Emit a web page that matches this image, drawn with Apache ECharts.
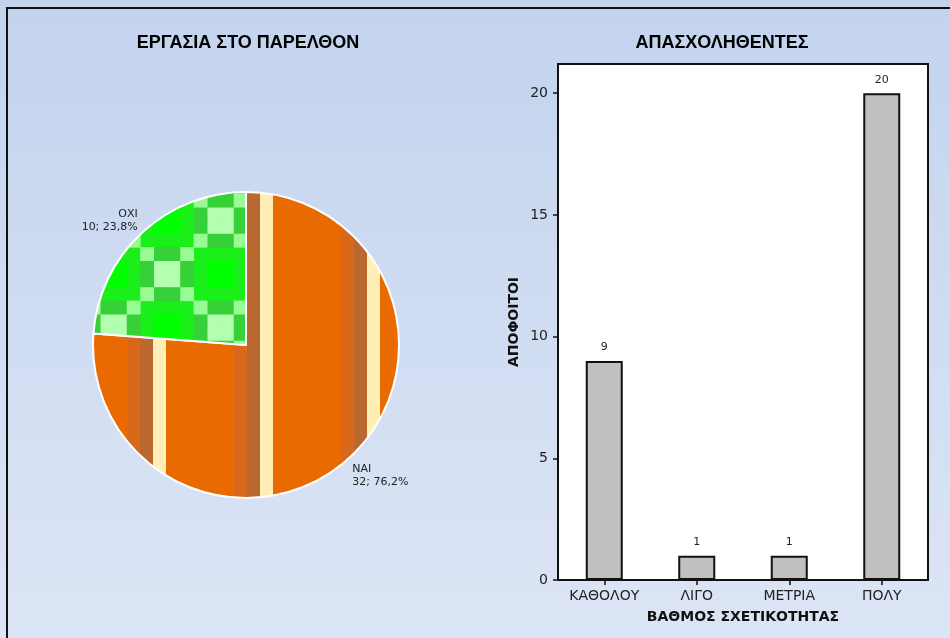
<!DOCTYPE html>
<html>
<head>
<meta charset="utf-8">
<script src="https://cdn.jsdelivr.net/npm/echarts@6/dist/echarts.min.js"></script>
<style>
  html, body { margin: 0; padding: 0; }
  #chart { position: absolute; left: 0; top: 0; width: 950px; height: 638px; }
</style>
</head>
<body>
<div id="chart"></div>
<script>
// Data
const pieNames = ["ΝΑΙ", "ΟΧΙ"];
const pieValues = [32, 10];
const barCategories = ["ΚΑΘΟΛΟΥ", "ΛΙΓΟ", "ΜΕΤΡΙΑ", "ΠΟΛΥ"];
const barValues = [9, 1, 1, 20];
const yTicks = [0, 5, 10, 15, 20];

// Fill patterns (tile of 107px, lined up with the canvas origin)
function stripeTile() {
  const c = document.createElement("canvas");
  c.width = 107;
  c.height = 8;
  const ctx = c.getContext("2d");
  ctx.fillStyle = "#e86a00";
  ctx.fillRect(0, 0, 107, 8);
  ctx.fillStyle = "#d9681a";
  ctx.fillRect(20, 0, 13, 8);
  ctx.fillStyle = "#b9692f";
  ctx.fillRect(33, 0, 13, 8);
  ctx.fillStyle = "#ffefb6";
  ctx.fillRect(46, 0, 13, 8);
  return c;
}

function checkTile() {
  const size = 107, cell = size / 8, off = 100;
  const c = document.createElement("canvas");
  c.width = size;
  c.height = size;
  const ctx = c.getContext("2d");
  ctx.fillStyle = "#1aef1a";
  ctx.fillRect(0, 0, size, size);
  const light = "#b3ffb0", pale = "#99fb94", mid = "#38d038", pure = "#00ff00";
  const cells = [];
  // two light blocks per tile with a mid ring and pale corners
  [[0, 0], [4, 4]].forEach(([bx, by]) => {
    cells.push([bx, by, light], [bx + 1, by, light], [bx, by + 1, light], [bx + 1, by + 1, light]);
    cells.push([bx, by - 1, mid], [bx + 1, by - 1, mid], [bx, by + 2, mid], [bx + 1, by + 2, mid]);
    cells.push([bx - 1, by, mid], [bx - 1, by + 1, mid], [bx + 2, by, mid], [bx + 2, by + 1, mid]);
    cells.push([bx - 1, by - 1, pale], [bx + 2, by - 1, pale], [bx - 1, by + 2, pale], [bx + 2, by + 2, pale]);
    cells.push([bx, by + 4, pure], [bx + 1, by + 4, pure], [bx, by + 5, pure], [bx + 1, by + 5, pure]);
  });
  cells.forEach(([cx, cy, col]) => {
    const x = (((off + cx * cell) % size) + size) % size;
    const y = (((off + cy * cell) % size) + size) % size;
    ctx.fillStyle = col;
    for (const dx of [0, -size]) {
      for (const dy of [0, -size]) {
        ctx.fillRect(x + dx, y + dy, cell + 0.5, cell + 0.5);
      }
    }
  });
  return c;
}

const pieFills = [
  { image: stripeTile(), repeat: "repeat" },
  { image: checkTile(), repeat: "repeat" },
];
// nudges for the two pie labels
const pieLabelShift = [[-13, 10], [11, -3]];

const chart = echarts.init(document.getElementById("chart"), null, { renderer: "canvas" });

const titleFont = { fontFamily: "'Liberation Sans', Arial, sans-serif", fontWeight: "bold", fontSize: 18, color: "#000" };
const textFont = "'DejaVu Sans', 'Liberation Sans', sans-serif";

const option = {
  backgroundColor: {
    type: "linear", x: 0, y: 0, x2: 0, y2: 1,
    colorStops: [
      { offset: 0, color: "#c3d3ee" },
      { offset: 1, color: "#dce5f5" },
    ],
  },
  animation: false,
  title: [
    { text: "ΕΡΓΑΣΙΑ ΣΤΟ ΠΑΡΕΛΘΟΝ", left: 243, top: 29, textAlign: "center", textStyle: titleFont },
    { text: "ΑΠΑΣΧΟΛΗΘΕΝΤΕΣ", left: 717, top: 29, textAlign: "center", textStyle: titleFont },
  ],
  graphic: [
    {
      type: "rect",
      shape: { x: 7, y: 8, width: 960, height: 650 },
      style: { fill: null, stroke: "#111", lineWidth: 2 },
      silent: true,
    },
  ],
  grid: {
    left: 558, top: 64, right: 22, bottom: 58,
    show: true, backgroundColor: "#fff", borderColor: "#111", borderWidth: 2,
  },
  xAxis: {
    type: "category",
    data: barCategories,
    name: "ΒΑΘΜΟΣ ΣΧΕΤΙΚΟΤΗΤΑΣ",
    nameLocation: "middle",
    nameGap: 30,
    nameTextStyle: { fontFamily: textFont, fontWeight: "bold", fontSize: 14, color: "#111" },
    axisLine: { show: true, lineStyle: { color: "#111", width: 2 } },
    axisTick: { show: true, alignWithLabel: true, length: 5, lineStyle: { color: "#111", width: 1.5 } },
    axisLabel: { fontFamily: textFont, fontSize: 14, color: "#222", margin: 9 },
  },
  yAxis: {
    type: "value",
    min: 0,
    max: 21.2,
    interval: 5,
    name: "ΑΠΟΦΟΙΤΟΙ",
    nameLocation: "middle",
    nameGap: 37,
    nameRotate: 90,
    nameTextStyle: { fontFamily: textFont, fontWeight: "bold", fontSize: 14, color: "#111" },
    splitLine: { show: false },
    axisLine: { show: true, lineStyle: { color: "#111", width: 2 } },
    axisTick: { show: true, length: 5, customValues: yTicks, lineStyle: { color: "#111", width: 1.5 } },
    axisLabel: { fontFamily: textFont, fontSize: 14, color: "#222", margin: 10, customValues: yTicks },
  },
  series: [
    {
      type: "pie",
      center: [246, 345],
      radius: 153,
      startAngle: 90,
      clockwise: true,
      data: pieNames.map((n, i) => ({ name: n, value: pieValues[i], itemStyle: { color: pieFills[i] } })),
      itemStyle: { borderColor: "#fff", borderWidth: 2 },
      label: {
        show: true,
        position: "outside",
        fontFamily: textFont,
        fontSize: 11,
        lineHeight: 13,
        color: "#222",
        formatter: (p) => p.name + "\n" + p.value + "; " + p.percent.toFixed(1).replace(".", ",") + "%",
      },
      labelLine: { show: false, length: 12, length2: 2 },
      labelLayout: (p) => ({ dx: pieLabelShift[p.dataIndex][0], dy: pieLabelShift[p.dataIndex][1] }),
      emphasis: { disabled: true },
    },
    {
      type: "bar",
      data: barValues,
      barWidth: 37,
      itemStyle: { color: "#c0c0c0", borderColor: "#111", borderWidth: 2 },
      label: { show: true, position: "top", distance: 8, fontFamily: textFont, fontSize: 11, color: "#222" },
    },
  ],
};

chart.setOption(option);
</script>
</body>
</html>
